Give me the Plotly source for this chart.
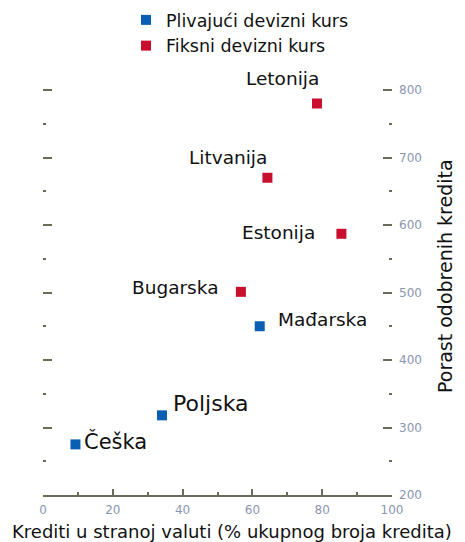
import plotly.graph_objects as go

# Data
float_countries = ["Češka", "Poljska", "Mađarska"]
float_x = [9.3, 34.1, 62.1]
float_y = [275, 318, 450]

fixed_countries = ["Bugarska", "Estonija", "Litvanija", "Letonija"]
fixed_x = [56.7, 85.5, 64.3, 78.5]
fixed_y = [501, 587, 670, 780]

series_names = ["Plivajući devizni kurs", "Fiksni devizni kurs"]
x_title = "Krediti u stranoj valuti (% ukupnog broja kredita)"
y_title = "Porast odobrenih kredita"
x_ticks = [0, 20, 40, 60, 80, 100]
y_ticks = [200, 300, 400, 500, 600, 700, 800]

BLUE = "#0a5fb4"
RED = "#c8102e"
FONT = "DejaVu Sans"
TXT = "#111111"
AXC = "#6b6b5a"
TICKC = "#8a96b0"

# label placement (style): name -> (xanchor, xshift, yshift, size)
label_style = {
    "Letonija": ("center", -34, 25, 18.5),
    "Litvanija": ("center", -39, 20, 18.5),
    "Estonija": ("right", -24, 1, 18.5),
    "Bugarska": ("right", -21, 4, 18.5),
    "Mađarska": ("left", 16, 7, 18.5),
    "Poljska": ("left", 9, 12, 22),
    "Češka": ("left", 7, 3, 21),
}

fig = go.Figure()
fig.add_trace(go.Scatter(x=float_x, y=float_y, mode="markers", name=series_names[0],
                         marker=dict(symbol="square", size=10, color=BLUE)))
fig.add_trace(go.Scatter(x=fixed_x, y=fixed_y, mode="markers", name=series_names[1],
                         marker=dict(symbol="square", size=10, color=RED)))

for names, xs, ys in [(float_countries, float_x, float_y), (fixed_countries, fixed_x, fixed_y)]:
    for n, xv, yv in zip(names, xs, ys):
        xa, dx, dy, sz = label_style[n]
        fig.add_annotation(x=xv, y=yv, text=n, showarrow=False, xanchor=xa, yanchor="middle",
                           xshift=dx, yshift=dy, font=dict(family=FONT, size=sz, color=TXT))

fig.add_annotation(xref="paper", yref="paper", x=0.5415, y=-0.0845, text=x_title,
                   showarrow=False, xanchor="center", yanchor="middle",
                   font=dict(family=FONT, size=18, color=TXT))
fig.add_annotation(xref="paper", yref="paper", x=1.152, y=0.507, text=y_title, textangle=-90,
                   showarrow=False, xanchor="center", yanchor="middle",
                   font=dict(family=FONT, size=19, color=TXT))

fig.update_layout(
    width=465, height=542,
    margin=dict(l=43, r=73, t=63, b=47, autoexpand=False),
    plot_bgcolor="white", paper_bgcolor="white",
    font=dict(family=FONT, color=TXT),
    showlegend=True,
    legend=dict(xref="container", yref="container", x=126/465, y=1 - 2/542,
                xanchor="left", yanchor="top", font=dict(family=FONT, size=17.5, color=TXT),
                bgcolor="rgba(0,0,0,0)", tracegroupgap=0, itemwidth=30),
    xaxis=dict(range=[0, 100], tickvals=x_ticks, showgrid=False, zeroline=False,
               showline=True, linecolor=AXC, linewidth=1.5,
               ticks="inside", ticklen=6, tickcolor=AXC, tickwidth=1.5,
               minor=dict(dtick=10, ticks="inside", ticklen=3, tickcolor=AXC, tickwidth=1.5),
               ticklabelstandoff=3,
               tickfont=dict(family=FONT, size=12, color=TICKC)),
    yaxis=dict(range=[200, 840], tickvals=y_ticks, side="right", showgrid=False, zeroline=False,
               showline=False, mirror="ticks",
               ticks="inside", ticklen=9, tickcolor=AXC, tickwidth=1.5,
               minor=dict(dtick=50, ticks="inside", ticklen=3, tickcolor=AXC, tickwidth=1.5),
               ticklabelstandoff=6,
               tickfont=dict(family=FONT, size=12, color=TICKC)),
)

fig.write_html("out.html", config={"displayModeBar": False},
               post_script="document.body.style.margin='0';")
